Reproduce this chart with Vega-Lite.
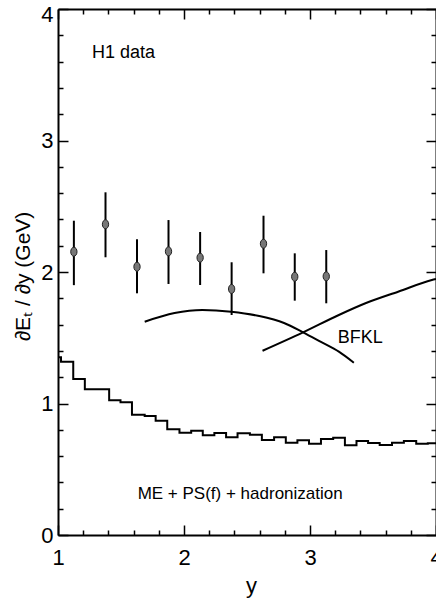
{
  "$schema": "https://vega.github.io/schema/vega-lite/v6.json",
  "width": 378,
  "height": 526,
  "autosize": {"type": "none"},
  "padding": {"left": 58, "top": 9, "right": 0, "bottom": 67},
  "background": "white",
  "config": {
    "view": {"stroke": null},
    "font": "Liberation Sans, sans-serif",
    "axis": {
      "grid": false,
      "domainColor": "black",
      "domainWidth": 2,
      "tickColor": "black",
      "tickWidth": 1.5,
      "labelColor": "black",
      "labelFont": "Liberation Sans, sans-serif",
      "labelFontSize": 22,
      "labelFlush": false,
      "labelOverlap": false,
      "titleColor": "black",
      "titleFont": "Liberation Sans, sans-serif",
      "titleFontWeight": "normal"
    }
  },
  "datasets": {
    "points": [
      {"y": 1.126, "val": 2.154, "lo": 1.90, "hi": 2.39},
      {"y": 1.377, "val": 2.363, "lo": 2.112, "hi": 2.606},
      {"y": 1.627, "val": 2.04, "lo": 1.838, "hi": 2.249},
      {"y": 1.877, "val": 2.157, "lo": 1.909, "hi": 2.395},
      {"y": 2.128, "val": 2.109, "lo": 1.901, "hi": 2.304},
      {"y": 2.378, "val": 1.871, "lo": 1.673, "hi": 2.074},
      {"y": 2.631, "val": 2.215, "lo": 1.99, "hi": 2.428},
      {"y": 2.879, "val": 1.964, "lo": 1.782, "hi": 2.142},
      {"y": 3.129, "val": 1.967, "lo": 1.762, "hi": 2.167}
    ],
    "hist": [
      {"y": 1.0, "val": 1.351},
      {"y": 1.024, "val": 1.318},
      {"y": 1.121, "val": 1.186},
      {"y": 1.213, "val": 1.108},
      {"y": 1.406, "val": 1.024},
      {"y": 1.496, "val": 1.009},
      {"y": 1.587, "val": 0.915},
      {"y": 1.688, "val": 0.905},
      {"y": 1.775, "val": 0.869},
      {"y": 1.867, "val": 0.804},
      {"y": 1.964, "val": 0.777},
      {"y": 2.057, "val": 0.793},
      {"y": 2.149, "val": 0.758},
      {"y": 2.241, "val": 0.776},
      {"y": 2.334, "val": 0.743},
      {"y": 2.425, "val": 0.773},
      {"y": 2.523, "val": 0.763},
      {"y": 2.618, "val": 0.722},
      {"y": 2.715, "val": 0.743},
      {"y": 2.808, "val": 0.702},
      {"y": 2.9, "val": 0.72},
      {"y": 2.992, "val": 0.694},
      {"y": 3.087, "val": 0.73},
      {"y": 3.184, "val": 0.74},
      {"y": 3.277, "val": 0.682},
      {"y": 3.369, "val": 0.715},
      {"y": 3.461, "val": 0.7},
      {"y": 3.553, "val": 0.684},
      {"y": 3.651, "val": 0.702},
      {"y": 3.745, "val": 0.715},
      {"y": 3.843, "val": 0.694},
      {"y": 3.935, "val": 0.697},
      {"y": 4.0, "val": 0.697}
    ],
    "curves": [
      {"curve": "a", "y": 1.688, "val": 1.622},
      {"curve": "a", "y": 1.925, "val": 1.688},
      {"curve": "a", "y": 2.146, "val": 1.711},
      {"curve": "a", "y": 2.375, "val": 1.698},
      {"curve": "a", "y": 2.597, "val": 1.665},
      {"curve": "a", "y": 2.794, "val": 1.612},
      {"curve": "a", "y": 2.945, "val": 1.541},
      {"curve": "a", "y": 3.087, "val": 1.468},
      {"curve": "a", "y": 3.229, "val": 1.394},
      {"curve": "a", "y": 3.348, "val": 1.31},
      {"curve": "b", "y": 2.623, "val": 1.401},
      {"curve": "b", "y": 2.945, "val": 1.541},
      {"curve": "b", "y": 3.229, "val": 1.673},
      {"curve": "b", "y": 3.44, "val": 1.762},
      {"curve": "b", "y": 3.704, "val": 1.852},
      {"curve": "b", "y": 3.967, "val": 1.939},
      {"curve": "b", "y": 4.0, "val": 1.947}
    ],
    "labels": [
      {"y": 1.269, "val": 3.627, "text": "H1 data", "size": 18},
      {"y": 1.632, "val": 0.274, "text": "ME + PS(f) + hadronization", "size": 17},
      {"y": 3.221, "val": 1.46, "text": "BFKL", "size": 18}
    ]
  },
  "layer": [
    {
      "data": {"name": "points"},
      "mark": {"type": "rule", "strokeWidth": 2, "color": "black"},
      "encoding": {
        "x": {
          "field": "y", "type": "quantitative",
          "scale": {"domain": [1, 4], "nice": false, "zero": false},
          "axis": {
            "orient": "bottom",
            "values": [1, 1.2, 1.4, 1.6, 1.8, 2, 2.2, 2.4, 2.6, 2.8, 3, 3.2, 3.4, 3.6, 3.8, 4],
            "labelExpr": "abs(datum.value - round(datum.value)) < 0.001 ? format(datum.value, 'd') : ''",
            "tickSize": {"condition": {"test": "abs(datum.value - round(datum.value)) < 0.001", "value": -10}, "value": -5},
            "labelPadding": 22,
            "title": "y",
            "titleFontSize": 22,
            "titleX": 193,
            "titleY": 57,
            "titleBaseline": "alphabetic",
            "titleAlign": "center"
          }
        },
        "y": {
          "field": "lo", "type": "quantitative",
          "scale": {"domain": [0, 4], "nice": false, "zero": false},
          "axis": {
            "orient": "left",
            "values": [0, 0.2, 0.4, 0.6, 0.8, 1, 1.2, 1.4, 1.6, 1.8, 2, 2.2, 2.4, 2.6, 2.8, 3, 3.2, 3.4, 3.6, 3.8, 4],
            "labelExpr": "abs(datum.value - round(datum.value)) < 0.001 ? format(datum.value, 'd') : ''",
            "tickSize": {"condition": {"test": "abs(datum.value - round(datum.value)) < 0.001", "value": -10}, "value": -5},
            "labelPadding": 15,
            "labelOffset": {"condition": {"test": "datum.value > 3.9", "value": 5}, "value": 0},
            "title": "∂Eₜ / ∂y   (GeV)",
            "titleFontSize": 21,
            "titleAngle": -90,
            "titleX": -35,
            "titleY": 267,
            "titleBaseline": "middle",
            "titleAlign": "center"
          }
        },
        "y2": {"field": "hi"}
      }
    },
    {
      "data": {"name": "hist"},
      "mark": {"type": "line", "interpolate": "step-after", "strokeWidth": 2, "color": "black"},
      "encoding": {
        "x": {
          "field": "y", "type": "quantitative",
          "axis": {
            "orient": "top",
            "values": [1, 1.2, 1.4, 1.6, 1.8, 2, 2.2, 2.4, 2.6, 2.8, 3, 3.2, 3.4, 3.6, 3.8, 4],
            "labels": false,
            "title": null,
            "tickSize": {"condition": {"test": "abs(datum.value - round(datum.value)) < 0.001", "value": -10}, "value": -5}
          }
        },
        "y": {
          "field": "val", "type": "quantitative",
          "axis": {
            "orient": "right",
            "values": [0, 0.2, 0.4, 0.6, 0.8, 1, 1.2, 1.4, 1.6, 1.8, 2, 2.2, 2.4, 2.6, 2.8, 3, 3.2, 3.4, 3.6, 3.8, 4],
            "labels": false,
            "title": null,
            "tickSize": {"condition": {"test": "abs(datum.value - round(datum.value)) < 0.001", "value": -10}, "value": -5}
          }
        }
      }
    },
    {
      "data": {"name": "curves"},
      "mark": {"type": "line", "interpolate": "monotone", "strokeWidth": 2, "color": "black"},
      "encoding": {
        "x": {"field": "y", "type": "quantitative", "axis": null},
        "y": {"field": "val", "type": "quantitative", "axis": null},
        "detail": {"field": "curve"}
      }
    },
    {
      "data": {"name": "points"},
      "mark": {"type": "point", "shape": "M-0.7,0a0.7,1 0 1,0 1.4,0a0.7,1 0 1,0 -1.4,0z", "size": 81, "filled": true, "fill": "#777777", "stroke": "#222222", "strokeWidth": 1, "opacity": 1},
      "encoding": {
        "x": {"field": "y", "type": "quantitative", "axis": null},
        "y": {"field": "val", "type": "quantitative", "axis": null}
      }
    },
    {
      "data": {"name": "labels"},
      "mark": {"type": "text", "align": "left", "baseline": "alphabetic", "color": "black", "font": "Liberation Sans, sans-serif"},
      "encoding": {
        "x": {"field": "y", "type": "quantitative", "axis": null},
        "y": {"field": "val", "type": "quantitative", "axis": null},
        "text": {"field": "text"},
        "size": {"field": "size", "type": "quantitative", "scale": null}
      }
    }
  ],
  "resolve": {"axis": {"x": "independent", "y": "independent"}}
}
